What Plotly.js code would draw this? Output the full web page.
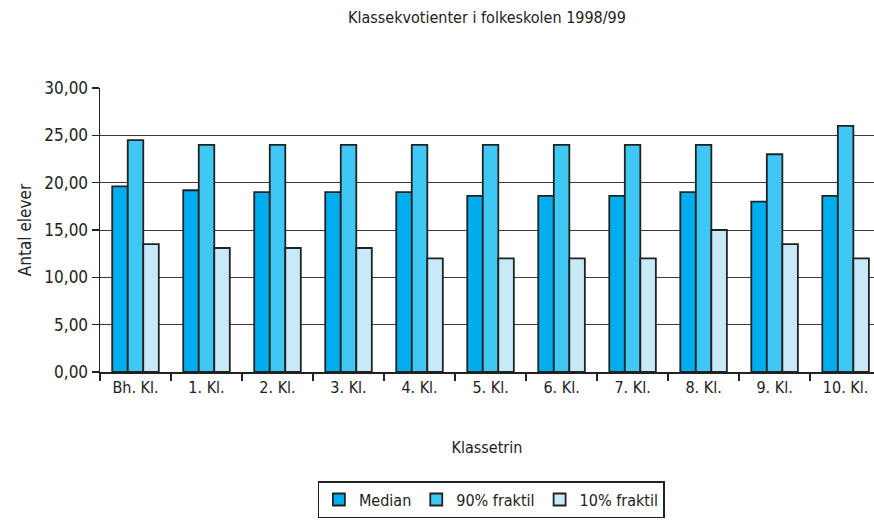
<!DOCTYPE html>
<html><head><meta charset="utf-8">
<script src="https://cdn.plot.ly/plotly-3.0.1.min.js"></script>
<style>html,body{margin:0;padding:0;background:#fff}#c{width:874px;height:521px}</style>
</head><body><div id="c"></div>
<script>
const categories = ["Bh. Kl.", "1. Kl.", "2. Kl.", "3. Kl.", "4. Kl.", "5. Kl.", "6. Kl.", "7. Kl.", "8. Kl.", "9. Kl.", "10. Kl."];
const median = [19.6, 19.2, 19.0, 19.0, 19.0, 18.6, 18.6, 18.6, 19.0, 18.0, 18.6];
const frakt90 = [24.5, 24.0, 24.0, 24.0, 24.0, 24.0, 24.0, 24.0, 24.0, 23.0, 26.0];
const frakt10 = [13.5, 13.1, 13.1, 13.1, 12.0, 12.0, 12.0, 12.0, 15.0, 13.5, 12.0];
const yTicks = [0, 5, 10, 15, 20, 25, 30];

const font = "DejaVu Sans Condensed, Liberation Sans Narrow, sans-serif";
const outline = {color: "#222222", width: 1.8};
function bar(name, y, color) {
  return {type: "bar", name: name, x: categories, y: y,
    marker: {color: color, line: outline}, hoverinfo: "y"};
}
const data = [
  bar("Median", median, "#00AEEF"),
  bar("90% fraktil", frakt90, "#40C8F4"),
  bar("10% fraktil", frakt10, "#C8E9F8")
];
const layout = {
  width: 874, height: 521,
  margin: {l: 100, r: 0, t: 88, b: 149},
  paper_bgcolor: "#ffffff", plot_bgcolor: "#ffffff",
  separators: ",.",
  font: {family: font, size: 16, color: "#222222"},
  title: {text: "Klassekvotienter i folkeskolen 1998/99", x: 0.5, xref: "paper", xanchor: "center",
          y: 0.978, yref: "container", font: {family: font, size: 16, color: "#222222"}},
  barmode: "group", bargap: 0.344, bargroupgap: 0,
  xaxis: {
    type: "category", range: [-0.5, 10.4],
    showline: true, linecolor: "#222222", linewidth: 1.5,
    ticks: "outside", tickson: "boundaries", ticklen: 7, tickcolor: "#222222", tickwidth: 1.2,
    showgrid: false, tickfont: {size: 16},
    title: {text: "Klassetrin", font: {size: 16}, standoff: 46}
  },
  yaxis: {
    range: [0, 30], tickvals: yTicks, tickformat: ".2f",
    showline: true, linecolor: "#222222", linewidth: 1.5,
    ticks: "outside", ticklen: 7, tickcolor: "#222222", tickwidth: 1.2,
    showgrid: true, gridcolor: "#3a3a3a", gridwidth: 1, zeroline: false,
    tickfont: {size: 17},
    title: {text: "Antal elever", font: {size: 17}, standoff: 8}
  },
  legend: {orientation: "h", x: 0.562, xref: "container", xanchor: "center", y: 0.005, yref: "container", yanchor: "bottom",
    bordercolor: "#222222", borderwidth: 1.2, font: {size: 16}, itemwidth: 30, tracegroupgap: 0},
  showlegend: true
};
Plotly.newPlot("c", data, layout, {displayModeBar: false, staticPlot: true});
</script></body></html>
